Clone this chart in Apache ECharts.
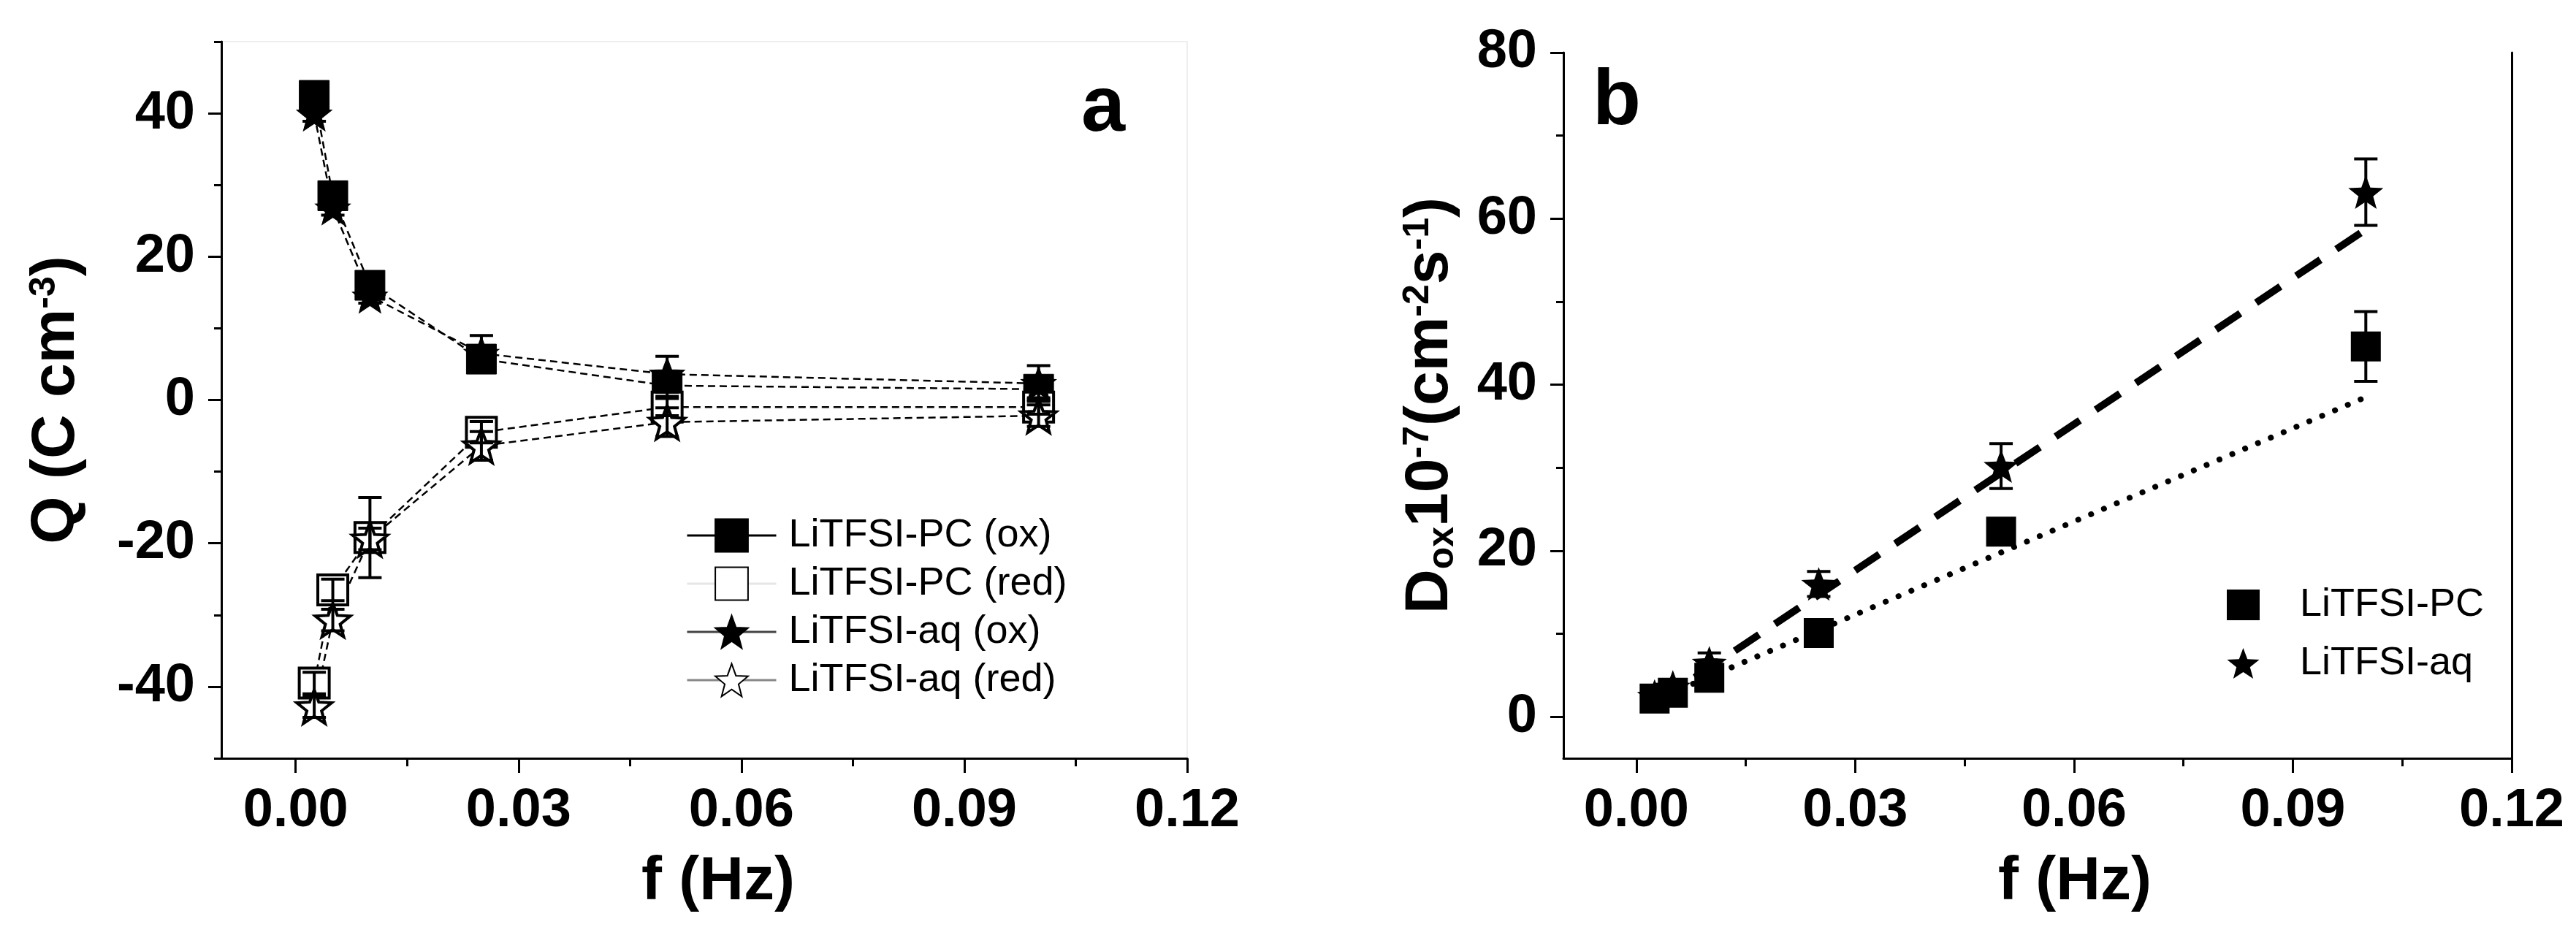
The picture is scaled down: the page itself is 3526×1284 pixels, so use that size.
<!DOCTYPE html>
<html>
<head>
<meta charset="utf-8">
<title>Q and Dox vs f</title>
<script src="https://cdn.jsdelivr.net/npm/echarts@6/dist/echarts.min.js"></script>
<style>
  html, body { margin: 0; padding: 0; background: #fff; }
  #chart { width: 3526px; height: 1284px; }
</style>
</head>
<body>
<div id="chart"></div>
<script>
// frequencies (Hz)
var freq = [0.0025, 0.005, 0.01, 0.025, 0.05, 0.1];

// panel a : Q (C cm-3)
var qPcOx  = [42.5, 28.5, 16.0, 5.7, 2.0, 1.5];
var qPcRed = [-39.5, -26.5, -19.2, -4.5, -1.0, -1.0];
var qAqOx  = [39.9, 26.8, 14.5, 6.5, 3.6, 2.3];
var qAqRed = [-42.8, -30.7, -19.4, -6.4, -3.1, -2.2];
var ePcOx  = [1.0, 1.0, 1.0, 1.5, 1.5, 1.2];
var ePcRed = [1.5, 1.5, 5.6, 1.5, 1.2, 1.0];
var eAqOx  = [1.0, 1.0, 1.0, 2.5, 2.5, 2.5];
var eAqRed = [1.5, 1.5, 1.5, 2.0, 2.0, 1.5];

// panel b : Dox 10^-7 (cm-2 s-1)
var dPc  = [2.2, 2.9, 4.7, 10.1, 22.3, 44.6];
var dAq  = [2.5, 3.6, 6.5, 16.0, 30.2, 63.2];
var edPc = [0.5, 0.5, 0.8, 1.2, 1.5, 4.2];
var edAq = [0.8, 0.8, 1.2, 1.5, 2.7, 4.0];
// linear fits (end points)
var fitPc = [[0.0025, 2.0], [0.1, 38.5]];
var fitAq = [[0.0025, 1.5], [0.1, 58.7]];

// ticks
var xMajor  = [0, 0.03, 0.06, 0.09, 0.12];
var xMinor  = [0.015, 0.045, 0.075, 0.105];
var qMajor  = [-40, -20, 0, 20, 40];
var qMinor  = [-50, -30, -10, 10, 30, 50];
var dMajor  = [0, 20, 40, 60, 80];
var dMinor  = [10, 30, 50, 70];

var FONT = 'Liberation Sans';
var STAR = 'path://M50,0 L62.34,33.01 L97.55,34.55 L69.97,56.49 L79.39,90.45 L50,71 L20.61,90.45 L30.03,56.49 L2.45,34.55 L37.66,33.01 Z';

function pairs(xs, ys) {
  return xs.map(function (x, i) { return [x, ys[i]]; });
}
function errData(xs, ys, es) {
  return xs.map(function (x, i) { return [x, ys[i] - es[i], ys[i] + es[i]]; });
}
function renderErr(params, api) {
  var top = api.coord([api.value(0), api.value(2)]);
  var bot = api.coord([api.value(0), api.value(1)]);
  var w = 16;
  var st = { stroke: '#000', lineWidth: 4 };
  return {
    type: 'group',
    children: [
      { type: 'line', shape: { x1: top[0], y1: top[1], x2: bot[0], y2: bot[1] }, style: st },
      { type: 'line', shape: { x1: top[0] - w, y1: top[1], x2: top[0] + w, y2: top[1] }, style: st },
      { type: 'line', shape: { x1: bot[0] - w, y1: bot[1], x2: bot[0] + w, y2: bot[1] }, style: st }
    ]
  };
}

var labelStyle = { fontFamily: FONT, fontWeight: 'bold', fontSize: 74, color: '#000', margin: 36 };
var nameStyle = {
  fontFamily: FONT, fontWeight: 'bold', fontSize: 84, color: '#000',
  rich: {
    n:   { fontFamily: FONT, fontWeight: 'bold', fontSize: 84, color: '#000' },
    sup: { fontFamily: FONT, fontWeight: 'bold', fontSize: 50, color: '#000', verticalAlign: 'top' },
    sub: { fontFamily: FONT, fontWeight: 'bold', fontSize: 50, color: '#000', verticalAlign: 'bottom' }
  }
};
var axLine = { show: true, onZero: false, lineStyle: { color: '#000', width: 3 } };
var noLine = { show: false, onZero: false };

function majorX(grid, name, shift) {
  return {
    type: 'value', gridIndex: grid, min: -0.01, max: 0.12, position: 'bottom',
    axisLine: axLine,
    axisTick: { show: true, inside: false, length: 20, lineStyle: { width: 3, color: '#000' }, customValues: xMajor },
    axisLabel: Object.assign({ customValues: xMajor, formatter: function (v) { return v.toFixed(2); } }, labelStyle),
    splitLine: { show: false },
    name: name, nameLocation: 'middle', nameGap: 128,
    nameTextStyle: Object.assign({}, nameStyle, { padding: [0, 0, 0, shift] })
  };
}
function minorX(grid) {
  return {
    type: 'value', gridIndex: grid, min: -0.01, max: 0.12, position: 'bottom',
    axisLine: noLine,
    axisTick: { show: true, length: 11, lineStyle: { width: 3, color: '#000' }, customValues: xMinor },
    axisLabel: { show: false }, splitLine: { show: false }
  };
}
function majorY(grid, min, max, ticks, name, gap) {
  return {
    type: 'value', gridIndex: grid, min: min, max: max, position: 'left',
    axisLine: axLine,
    axisTick: { show: true, length: 18, lineStyle: { width: 3, color: '#000' }, customValues: ticks },
    axisLabel: Object.assign({ customValues: ticks }, labelStyle),
    splitLine: { show: false },
    name: name, nameLocation: 'middle', nameRotate: 90, nameGap: gap, nameTextStyle: nameStyle
  };
}
function minorY(grid, min, max, ticks) {
  return {
    type: 'value', gridIndex: grid, min: min, max: max, position: 'left',
    axisLine: noLine,
    axisTick: { show: true, length: 10, lineStyle: { width: 3, color: '#000' }, customValues: ticks },
    axisLabel: { show: false }, splitLine: { show: false }
  };
}

var lineA = { type: [10, 6], width: 2.5, color: '#000' };

function qSeries(name, ys, symbol, filled) {
  return {
    name: name, type: 'line', xAxisIndex: 0, yAxisIndex: 0,
    data: pairs(freq, ys),
    symbol: symbol, symbolSize: symbol === 'rect' ? 41 : [48, 46],
    itemStyle: filled ? { color: '#000', borderColor: '#000', borderWidth: 1 }
                      : { color: '#fff', borderColor: '#000', borderWidth: 4 },
    lineStyle: lineA, z: 3
  };
}
function errSeries(xA, yA, data) {
  return {
    type: 'custom', xAxisIndex: xA, yAxisIndex: yA, renderItem: renderErr,
    encode: { x: 0, y: [1, 2] }, data: data, z: 6, silent: true
  };
}

var chart = echarts.init(document.getElementById('chart'));
var option = {
  animation: false,
  backgroundColor: '#fff',
  grid: [
    { left: 303, top: 57, width: 1322, height: 981, show: true, borderColor: '#eeeeee', borderWidth: 2 },
    { left: 2140, top: 72, width: 1298, height: 966 }
  ],
  xAxis: [
    majorX(0, 'f (Hz)', 38),
    minorX(0),
    majorX(1, 'f (Hz)', 102),
    minorX(1)
  ],
  yAxis: [
    majorY(0, -50, 50, qMajor, '{n|Q (C cm}{sup|-3}{n|)}', 183),
    minorY(0, -50, 50, qMinor),
    majorY(1, -5, 80, dMajor, '{n|D}{sub|ox}{n|10}{sup|-7}{n|(cm}{sup|-2}{n|s}{sup|-1}{n|)}', 140),
    minorY(1, -5, 80, dMinor),
    { type: 'value', gridIndex: 1, min: -5, max: 80, position: 'right',
      axisLine: { show: true, onZero: false, lineStyle: { color: '#000', width: 3 } },
      axisTick: { show: false }, axisLabel: { show: false }, splitLine: { show: false } }
  ],
  graphic: [
    { type: 'text', left: 1480, top: 95, style: { text: 'a', fontFamily: FONT, fontWeight: 'bold', fontSize: 108, fill: '#000' } },
    { type: 'text', left: 2180, top: 86, style: { text: 'b', fontFamily: FONT, fontWeight: 'bold', fontSize: 108, fill: '#000' } }
  ],
  legend: [
    {
      orient: 'vertical', left: 934, top: 701, itemWidth: 122, itemHeight: 56, itemGap: 12,
      textStyle: { fontFamily: FONT, fontSize: 54, color: '#000', padding: [0, 0, 0, 12] },
      data: [
        { name: 'LiTFSI-PC (ox)',  lineStyle: { type: 'solid', width: 3, color: '#000' } },
        { name: 'LiTFSI-PC (red)', lineStyle: { type: 'solid', width: 3, color: '#e6e6e6' } },
        { name: 'LiTFSI-aq (ox)',  lineStyle: { type: 'solid', width: 3, color: '#444' } },
        { name: 'LiTFSI-aq (red)', lineStyle: { type: 'solid', width: 3, color: '#888' } }
      ]
    },
    {
      orient: 'vertical', left: 3043, top: 796, itemWidth: 45, itemHeight: 42, itemGap: 26,
      textStyle: { fontFamily: FONT, fontSize: 54, color: '#000', padding: [0, 0, 0, 50] },
      data: ['LiTFSI-PC', 'LiTFSI-aq']
    }
  ],
  series: [
    qSeries('LiTFSI-PC (ox)', qPcOx, 'rect', true),
    qSeries('LiTFSI-PC (red)', qPcRed, 'rect', false),
    qSeries('LiTFSI-aq (ox)', qAqOx, STAR, true),
    qSeries('LiTFSI-aq (red)', qAqRed, STAR, false),
    errSeries(0, 0, errData(freq, qPcOx, ePcOx)),
    errSeries(0, 0, errData(freq, qPcRed, ePcRed)),
    errSeries(0, 0, errData(freq, qAqOx, eAqOx)),
    errSeries(0, 0, errData(freq, qAqRed, eAqRed)),

    { type: 'line', xAxisIndex: 2, yAxisIndex: 2, data: fitPc, symbol: 'none', z: 2,
      lineStyle: { color: '#000', width: 8, type: [0.1, 19], cap: 'round' } },
    { type: 'line', xAxisIndex: 2, yAxisIndex: 2, data: fitAq, symbol: 'none', z: 2,
      lineStyle: { color: '#000', width: 10, type: [40, 26] } },
    { name: 'LiTFSI-PC', type: 'scatter', xAxisIndex: 2, yAxisIndex: 2, data: pairs(freq, dPc),
      symbol: 'rect', symbolSize: 41, itemStyle: { color: '#000', opacity: 1 }, z: 4 },
    { name: 'LiTFSI-aq', type: 'scatter', xAxisIndex: 2, yAxisIndex: 2, data: pairs(freq, dAq),
      symbol: STAR, symbolSize: [48, 46], itemStyle: { color: '#000', opacity: 1 }, z: 4 },
    errSeries(2, 2, errData(freq, dPc, edPc)),
    errSeries(2, 2, errData(freq, dAq, edAq))
  ]
};
chart.setOption(option);
</script>
</body>
</html>
